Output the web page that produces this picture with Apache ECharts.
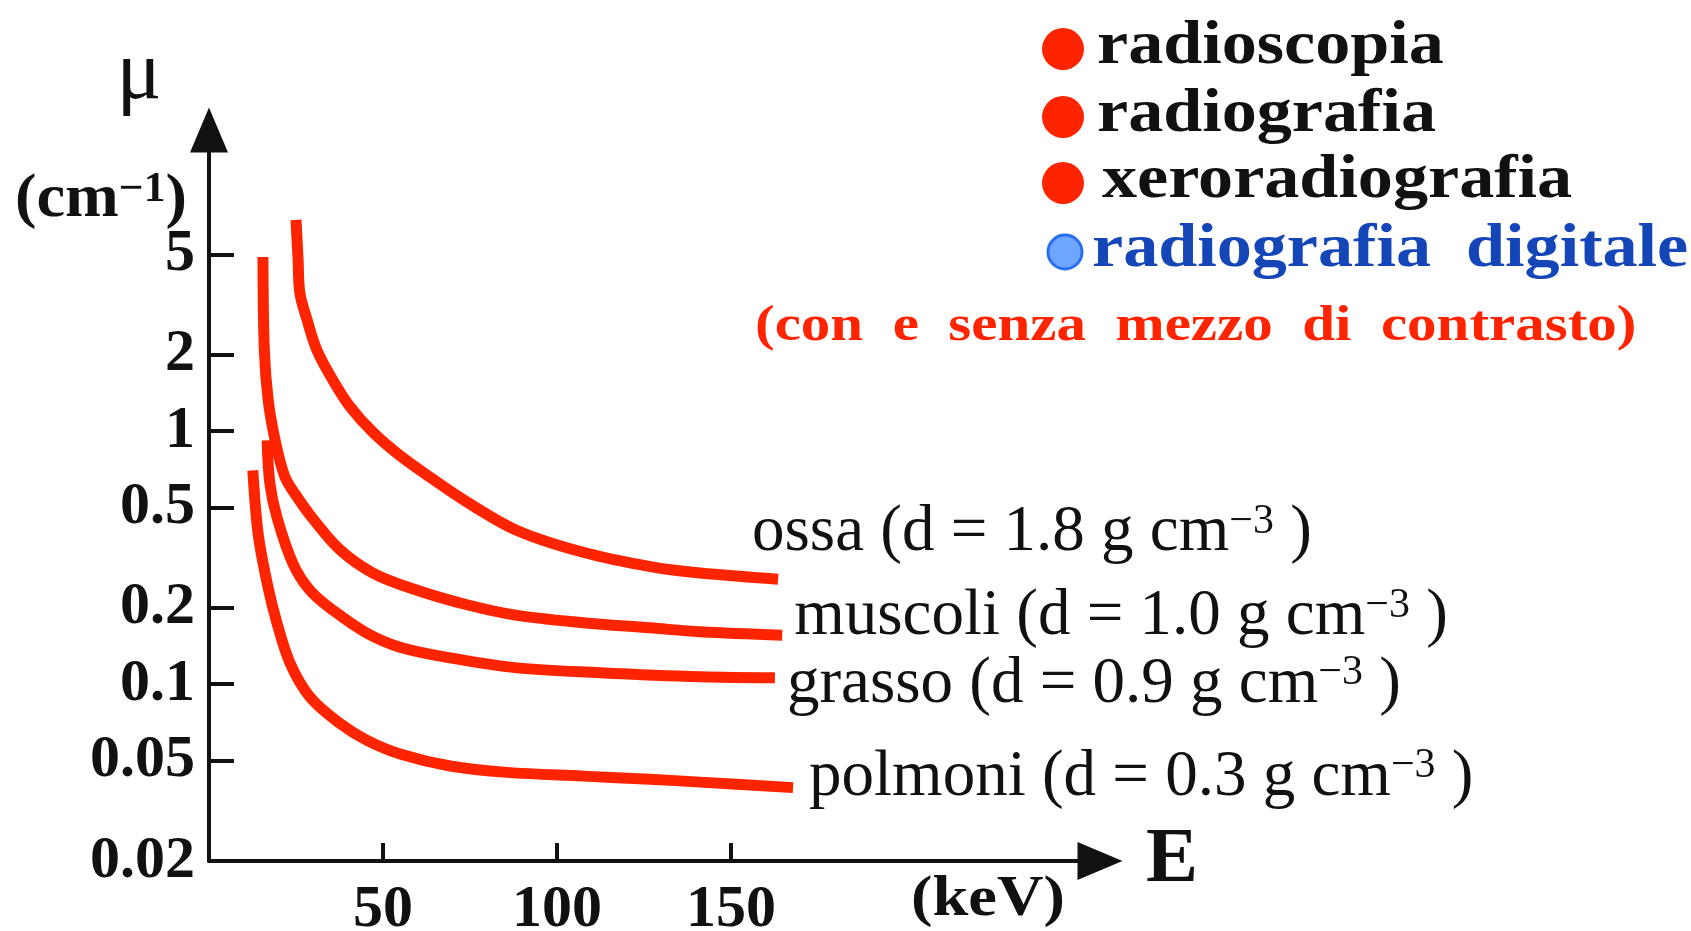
<!DOCTYPE html>
<html>
<head>
    <meta charset="utf-8" />
    <title>Coefficiente di attenuazione</title>
    <script src="https://cdn.jsdelivr.net/npm/echarts@6/dist/echarts.min.js"></script>
    <style>
        html, body { margin: 0; padding: 0; background: #fff; }
        #main { width: 1691px; height: 931px; }
    </style>
</head>
<body>
<div id="main"></div>
<script type="text/javascript">
    // energia (keV) e mu (cm^-1)
    var ossaE = [25.0, 25.6, 26.1, 28.2, 31.0, 35.6, 40.5, 47.1, 54.9, 64.4, 74.1, 88.5, 107.5, 127.6, 141.1, 163.5];
    var ossaMu = [6.84, 4.75, 3.52, 2.75, 2.09, 1.59, 1.25, 0.99, 0.80, 0.645, 0.525, 0.405, 0.332, 0.29, 0.275, 0.26];
    var muscoliE = [15.5, 15.9, 17.0, 19.0, 21.8, 25.3, 29.9, 37.6, 47.1, 59.8, 74.1, 88.5, 107.5, 126.7, 141.1, 164.7];
    var muscoliMu = [4.88, 2.09, 1.33, 0.92, 0.66, 0.55, 0.45, 0.34, 0.275, 0.235, 0.206, 0.187, 0.175, 0.167, 0.161, 0.156];
    var grassoE = [16.7, 17.5, 19.5, 24.1, 29.0, 35.6, 45.4, 54.9, 69.3, 88.5, 112.4, 141.1, 162.6];
    var grassoMu = [0.92, 0.62, 0.458, 0.30, 0.235, 0.196, 0.159, 0.140, 0.127, 0.116, 0.111, 0.107, 0.106];
    var polmoniE = [12.6, 14.1, 16.7, 19.5, 23.3, 29.0, 37.6, 45.4, 54.9, 69.3, 85.6, 107.5, 126.7, 141.1, 167.8];
    var polmoniMu = [0.70, 0.395, 0.251, 0.175, 0.121, 0.089, 0.070, 0.060, 0.053, 0.0475, 0.0448, 0.0433, 0.0421, 0.0410, 0.039];

    var tissueNames = ['ossa', 'muscoli', 'grasso', 'polmoni'];
    var tissueDensity = ['1.8', '1.0', '0.9', '0.3'];

    var muTicks = [0.02, 0.05, 0.1, 0.2, 0.5, 1, 2, 5];
    var energyTicks = [50, 100, 150];

    var techniques = ['radioscopia', 'radiografia', 'xeroradiografia', 'radiografia  digitale'];
    var note = '(con  e  senza  mezzo  di  contrasto)';

    var SERIF = "'Liberation Serif', 'Times New Roman', serif";
    var RED = '#ff2400';
    var INK = '#111';

    function pairs(xs, ys) {
        var out = [];
        for (var i = 0; i < xs.length; i++) out.push([xs[i], ys[i]]);
        return out;
    }

    var curves = [pairs(ossaE, ossaMu), pairs(muscoliE, muscoliMu), pairs(grassoE, grassoMu), pairs(polmoniE, polmoniMu)];
    // spostamento delle etichette rispetto alla fine della curva
    var labelOffsets = [[-26, -46], [12, -18], [12, 7], [16, -10]];

    var series = [];
    for (var k = 0; k < curves.length; k++) {
        series.push({
            name: tissueNames[k],
            type: 'line',
            data: curves[k],
            showSymbol: false,
            smooth: 0.35,
            clip: false,
            lineStyle: { color: RED, width: 11, cap: 'butt', join: 'round' },
            endLabel: {
                show: true,
                distance: 0,
                offset: labelOffsets[k],
                align: 'left',
                verticalAlign: 'middle',
                fontFamily: SERIF,
                fontSize: 65,
                color: INK,
                formatter: (function (k) {
                    return function () {
                        return tissueNames[k] + ' (d = ' + tissueDensity[k] + ' g cm{sup|\u22123} )';
                    };
                })(k),
                rich: {
                    sup: { fontFamily: SERIF, fontSize: 42, color: INK, verticalAlign: 'top', lineHeight: 40 }
                }
            }
        });
    }

    var graphic = [
        { type: 'text', x: 139, y: 76, style: { text: '\u03bc', font: '84px ' + SERIF, fill: INK, align: 'center', verticalAlign: 'middle' } },
        { type: 'text', x: 101, y: 200, scaleX: 1.04, style: {
            text: '(cm{sup|\u22121})', fill: INK, align: 'center', verticalAlign: 'middle',
            font: 'bold 62px ' + SERIF,
            rich: { sup: { font: 'bold 42px ' + SERIF, fill: INK, verticalAlign: 'top', lineHeight: 40 } }
        } },
        { type: 'text', x: 988, y: 901, scaleX: 1.15, style: { text: '(keV)', font: 'bold 56px ' + SERIF, fill: INK, align: 'center', verticalAlign: 'middle' } },
        { type: 'text', x: 755, y: 327, scaleX: 1.18, style: { text: note, font: 'bold 50px ' + SERIF, fill: RED, align: 'left', verticalAlign: 'middle' } }
    ];
    var dotY = [49, 117, 183, 252];
    for (var t = 0; t < techniques.length; t++) {
        var digital = t === 3;
        graphic.push({ type: 'circle', shape: { cx: digital ? 1065 : 1063, cy: dotY[t], r: digital ? 17 : 21 },
            style: { fill: digital ? '#6ea6ff' : RED, stroke: digital ? '#2a6ef0' : null, lineWidth: digital ? 3 : 0 } });
        graphic.push({ type: 'text', x: digital ? 1092 : (t === 2 ? 1102 : 1097), y: dotY[t] - 2, scaleX: 1.15,
            style: { text: techniques[t], font: 'bold 61px ' + SERIF, fill: digital ? '#1546b8' : INK, align: 'left', verticalAlign: 'middle' } });
    }

    var myChart = echarts.init(document.getElementById('main'));
    var option = {
        backgroundColor: '#fff',
        animation: false,
        grid: { left: 209, right: 591, top: 130, bottom: 70, outerBoundsMode: 'none' },
        xAxis: {
            type: 'value',
            min: 0,
            max: 256,
            name: 'E',
            nameLocation: 'end',
            nameGap: 46,
            nameTextStyle: { fontFamily: SERIF, fontSize: 78, fontWeight: 'bold', color: INK, verticalAlign: 'middle', align: 'left' },
            axisLine: { onZero: false, lineStyle: { color: INK, width: 4 }, symbol: ['none', 'triangle'], symbolSize: [38, 45] },
            axisTick: { show: true, inside: true, length: 18, customValues: energyTicks, lineStyle: { color: INK, width: 4 } },
            axisLabel: { customValues: energyTicks, fontFamily: SERIF, fontSize: 60, fontWeight: 'bold', color: INK, margin: 19 },
            splitLine: { show: false }
        },
        yAxis: {
            type: 'log',
            logBase: 10,
            min: 0.02,
            max: 15.5,
            axisLine: { show: true, onZero: false, lineStyle: { color: INK, width: 4 }, symbol: ['none', 'triangle'], symbolSize: [38, 45] },
            axisTick: { show: true, inside: true, length: 25, customValues: muTicks.slice(1), lineStyle: { color: INK, width: 4 } },
            axisLabel: {
                customValues: muTicks,
                fontFamily: SERIF, fontSize: 60, fontWeight: 'bold', color: INK, margin: 14,
                formatter: function (v) { return String(+(+v).toPrecision(3)); }
            },
            splitLine: { show: false },
            minorTick: { show: false }
        },
        graphic: graphic,
        series: series
    };
    myChart.setOption(option);
</script>
</body>
</html>
